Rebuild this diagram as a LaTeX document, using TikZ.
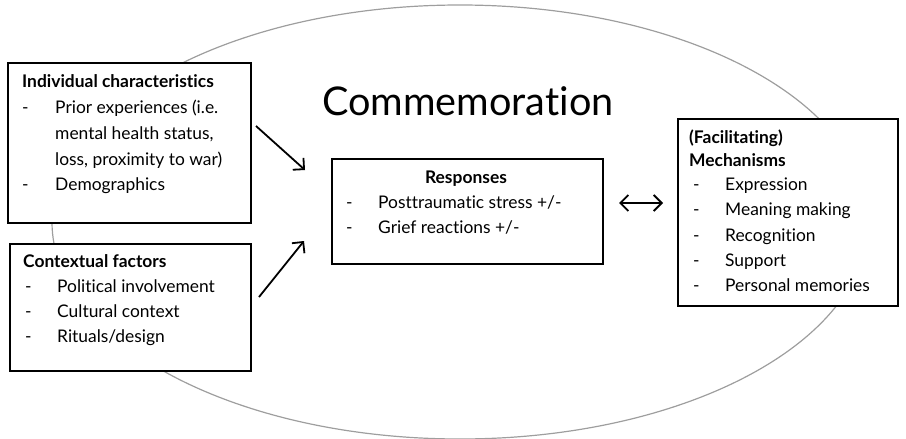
\documentclass[tikz,border=0pt]{standalone}
\usepackage{fontspec}
\setmainfont[Ligatures=CommonOff]{Lato}
\usetikzlibrary{arrows.meta}
\tikzset{mytip/.tip={Straight Barb[length=8pt,width=16pt,line width=1.8pt]}}
\begin{document}
\begin{tikzpicture}[x=1pt,y=-1pt,
  box/.style={draw=black,line width=1.6pt,fill=white,inner sep=0pt,anchor=north west},
  txt/.style={anchor=base west,inner sep=0pt,font=\fontsize{17.4}{20}\selectfont},
  ttl/.style={anchor=base west,inner sep=0pt,font=\fontsize{17.4}{20}\selectfont\bfseries},
  arr/.style={line width=1.8pt,-{mytip}},
  darr/.style={line width=1.8pt,{mytip}-{mytip}}]
\useasboundingbox (0,0) rectangle (906,439);
\draw[black!38, line width=1.2pt] (460,222) ellipse [x radius=408pt, y radius=217pt];
% boxes
\node[box,minimum width=243pt,minimum height=160pt] (ind) at (7,62) {};
\node[box,minimum width=241pt,minimum height=127pt] (ctx) at (9,243) {};
\node[box,minimum width=271pt,minimum height=105pt] (resp) at (331,158) {};
\node[box,minimum width=220pt,minimum height=187pt] (mech) at (677,118) {};
% title
\node[anchor=base west,inner sep=0pt,font=\fontsize{39.6}{42}\selectfont] (comm) at (322,115) {Commemoration};
% individual characteristics
\node[ttl] (i0) at (22,87) {Individual characteristics};
\node[txt] (i1d) at (22,113) {-};
\node[txt] (i1) at (55,113) {Prior experiences (i.e.};
\node[txt] (i2) at (55,139) {mental health status,};
\node[txt] (i3) at (55,165) {loss, proximity to war)};
\node[txt] (i4d) at (22,190) {-};
\node[txt] (i4) at (55,190) {Demographics};
% contextual factors
\node[ttl] (c0) at (23,267) {Contextual factors};
\node[txt] (c1d) at (25,292) {-};
\node[txt] (c1) at (57,292) {Political involvement};
\node[txt] (c2d) at (25,317) {-};
\node[txt] (c2) at (57,317) {Cultural context};
\node[txt] (c3d) at (25,342) {-};
\node[txt] (c3) at (57,342) {Rituals/design};
% responses
\node[ttl,anchor=base] (r0) at (466,183) {Responses};
\node[txt] (r1d) at (346,208) {-};
\node[txt] (r1) at (378,208) {Posttraumatic stress +/-};
\node[txt] (r2d) at (346,233) {-};
\node[txt] (r2) at (378,233) {Grief reactions +/-};
% mechanisms
\node[ttl] (m0) at (689,143) {(Facilitating)};
\node[ttl] (m1) at (689,166) {Mechanisms};
\node[txt] (m2d) at (693,190) {-};
\node[txt] (m2) at (725,190) {Expression};
\node[txt] (m3d) at (693,215) {-};
\node[txt] (m3) at (725,215) {Meaning making};
\node[txt] (m4d) at (693,241) {-};
\node[txt] (m4) at (725,241) {Recognition};
\node[txt] (m5d) at (693,266) {-};
\node[txt] (m5) at (725,266) {Support};
\node[txt] (m6d) at (693,291) {-};
\node[txt] (m6) at (725,291) {Personal memories};
% arrows
\coordinate (a1s) at (256,126);
\coordinate (a1e) at (305,170);
\coordinate (a2s) at (259,297);
\coordinate (a2e) at (304,241);
\coordinate (a3s) at (619,203);
\coordinate (a3e) at (663,203);
\draw[arr] (a1s) -- (a1e);
\draw[arr] (a2s) -- (a2e);
\draw[darr] (a3s) -- (a3e);
\end{tikzpicture}
\end{document}
